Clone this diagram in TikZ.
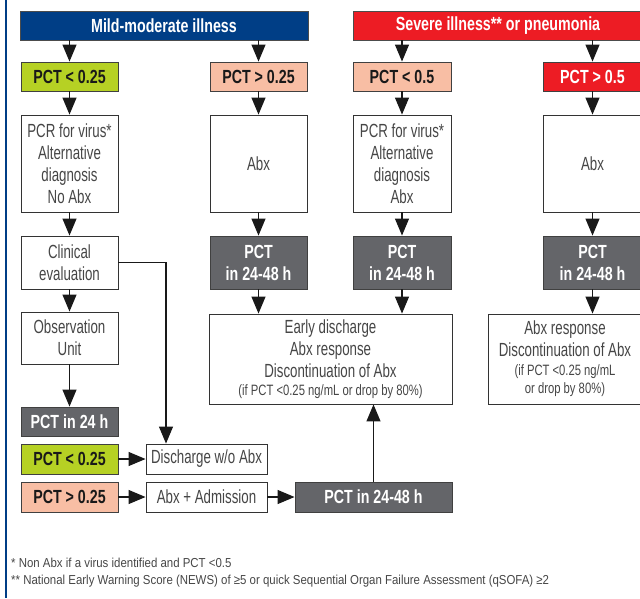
\documentclass[tikz,border=0pt]{standalone}
\usepackage{fontspec}
\setmainfont{Liberation Sans}[FakeStretch=0.70]
\newfontfamily\bfcond{Liberation Sans}[FakeStretch=0.75]
\newfontfamily\smallcond{Liberation Sans}[FakeStretch=0.75]
\newfontfamily\notefont{Liberation Sans}[FakeStretch=0.88]
\usepackage{xcolor}
\usetikzlibrary{arrows.meta}

\definecolor{mildblue}{RGB}{0,62,134}
\definecolor{sevred}{RGB}{237,28,36}
\definecolor{lowgreen}{RGB}{182,209,36}
\definecolor{midpink}{RGB}{248,190,164}
\definecolor{pctgray}{RGB}{100,101,105}
\definecolor{txtgray}{RGB}{70,70,70}
\newcommand{\smallsz}{\smallcond\fontsize{15}{18}\selectfont}

\tikzset{
  box/.style={draw=black!80,line width=0.9pt,fill=white,text=txtgray,align=center,
    inner sep=0pt,minimum width=97pt,font=\fontsize{19}{22}\selectfont},
  hdr/.style={draw=black!70,line width=0.6pt,text=white,minimum height=29pt,inner sep=0pt,
    font=\bfcond\bfseries\fontsize{19}{21}\selectfont},
  pctbox/.style={draw=black!75,line width=0.9pt,minimum width=97pt,minimum height=29pt,
    inner sep=0pt,align=center,text=black!90,font=\bfcond\bfseries\fontsize{19}{22}\selectfont},
  darkbox/.style={pctbox,fill=pctgray,text=white},
  arr/.style={-{Triangle[width=14pt,length=17pt]},line width=1.2pt,black!90},
}

\begin{document}
\begin{tikzpicture}[x=1pt,y=-1pt]
  \useasboundingbox (0,0) rectangle (640,598);
  \draw[mildblue,line width=2pt] (6,0) -- (6,598);

  % headers
  \node[hdr,fill=mildblue,minimum width=288pt] (mild) at (164,25.5) {Mild-moderate illness};
  \node[hdr,fill=sevred,minimum width=290pt] (severe) at (498,25.5) {Severe illness** or pneumonia};

  % PCT cut-offs
  \node[pctbox,fill=lowgreen] (lowA) at (69.5,76.5) {PCT < 0.25};
  \node[pctbox,fill=midpink] (highA) at (258.5,76.5) {PCT > 0.25};
  \node[pctbox,fill=midpink,minimum width=98pt] (lowB) at (402,76.5) {PCT < 0.5};
  \node[pctbox,fill=sevred,text=white,minimum width=99pt] (highB) at (592.5,76.5) {PCT > 0.5};

  % first step
  \node[box,minimum height=97pt] (pcrA) at (69.5,163.5) {PCR for virus*\\Alternative\\diagnosis\\No Abx};
  \node[box,minimum height=97pt] (abxA) at (258.5,163.5) {Abx};
  \node[box,minimum height=97pt,minimum width=98pt] (pcrB) at (402,163.5) {PCR for virus*\\Alternative\\diagnosis\\Abx};
  \node[box,minimum height=97pt,minimum width=99pt] (abxB) at (592.5,163.5) {Abx};

  % second step
  \node[box,minimum height=53pt] (clin) at (69.5,262.5) {Clinical\\evaluation};
  \node[darkbox,minimum height=53pt] (pctA) at (258.5,262.5) {PCT\\in 24-48 h};
  \node[darkbox,minimum height=53pt,minimum width=98pt] (pctB) at (402,262.5) {PCT\\in 24-48 h};
  \node[darkbox,minimum height=53pt,minimum width=99pt] (pctC) at (592.5,262.5) {PCT\\in 24-48 h};

  \node[box,minimum height=52pt] (obs) at (69.5,338) {Observation\\Unit};
  \node[box,minimum width=243pt,minimum height=90pt] (early) at (330.5,359)
    {Early discharge\\Abx response\\Discontinuation of Abx\\[-4pt]{\smallsz(if PCT <0.25 ng/mL or drop by 80\%)}};
  \node[box,minimum width=154pt,minimum height=90pt] (resp) at (565,359)
    {Abx response\\Discontinuation of Abx\\[-3pt]{\smallsz(if PCT <0.25 ng/mL}\\[-4pt]{\smallsz or drop by 80\%)}};

  % observation unit branch
  \node[darkbox] (pct24) at (69.5,421.5) {PCT in 24 h};
  \node[pctbox,fill=lowgreen,minimum height=30pt] (lowC) at (69.5,459) {PCT < 0.25};
  \node[box,minimum width=121pt,minimum height=30pt] (disch) at (206.5,459) {Discharge w/o Abx};
  \node[pctbox,fill=midpink,minimum height=30pt] (highC) at (69.5,497) {PCT > 0.25};
  \node[box,minimum width=121pt,minimum height=30pt] (adm) at (206.5,497) {Abx + Admission};
  \node[darkbox,minimum width=157pt,minimum height=30pt] (pctD) at (373.5,497) {PCT in 24-48 h};

  % connectors
  \draw[arr] (lowA |- mild.south) -- (lowA);
  \draw[arr] (highA |- mild.south) -- (highA);
  \draw[arr] (lowB |- severe.south) -- (lowB);
  \draw[arr] (highB |- severe.south) -- (highB);
  \draw[arr] (lowA) -- (pcrA);
  \draw[arr] (pcrA) -- (clin);
  \draw[arr] (clin) -- (obs);
  \draw[arr] (obs) -- (pct24);
  \draw[arr] (highA) -- (abxA);
  \draw[arr] (abxA) -- (pctA);
  \draw[arr] (lowB) -- (pcrB);
  \draw[arr] (pcrB) -- (pctB);
  \draw[arr] (highB) -- (abxB);
  \draw[arr] (abxB) -- (pctC);
  \draw[arr] (pctA) -- (pctA |- early.north);
  \draw[arr] (pctB) -- (pctB |- early.north);
  \draw[arr] (pctC) -- (pctC |- resp.north);
  \coordinate (turn) at (166,262.5);
  \draw[arr] (clin.east) -- (turn) -- (turn |- disch.north);
  \draw[arr] (lowC) -- (disch);
  \draw[arr] (highC) -- (adm);
  \draw[arr] (adm) -- (pctD);
  \draw[arr] (pctD) -- (pctD |- early.south);

  % footnotes
  \node[anchor=base west,inner sep=0pt,text=txtgray,font=\notefont\fontsize{13}{15}\selectfont] (note1)
    at (11,567) {* Non Abx if a virus identified and PCT <0.5};
  \node[anchor=base west,inner sep=0pt,text=txtgray,font=\notefont\fontsize{13}{15}\selectfont] (note2)
    at (11,584) {** National Early Warning Score (NEWS) of ≥5 or quick Sequential Organ Failure Assessment (qSOFA) ≥2};
\end{tikzpicture}
\end{document}
